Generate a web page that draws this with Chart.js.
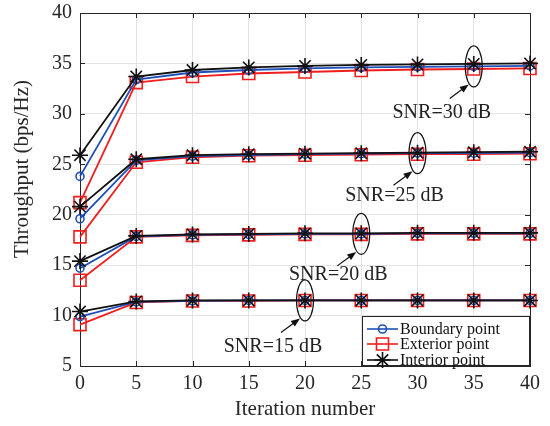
<!DOCTYPE html>
<html lang="en">
<head>
<meta charset="UTF-8">
<title>Throughput vs iteration</title>
<style>
html, body { margin: 0; padding: 0; background: #fff; }
#wrap { width: 550px; height: 426px; }
</style>
</head>
<body>
<div id="wrap"><canvas id="myChart"></canvas></div>

<script src="https://cdn.jsdelivr.net/npm/chart.js"></script>
<script>
// data
const iterations = [0, 5, 10, 15, 20, 25, 30, 35, 40];
const xTicks = [0, 5, 10, 15, 20, 25, 30, 35, 40];
const yTicks = [5, 10, 15, 20, 25, 30, 35, 40];

const boundary30 = [23.8, 33.4, 34.1, 34.35, 34.5, 34.6, 34.65, 34.7, 34.75];
const exterior30 = [21.2, 33.1, 33.7, 34.0, 34.15, 34.3, 34.4, 34.45, 34.5];
const interior30 = [25.9, 33.7, 34.35, 34.6, 34.75, 34.85, 34.9, 34.95, 35.0];

const boundary25 = [19.6, 25.4, 25.8, 25.9, 26.0, 26.05, 26.1, 26.1, 26.15];
const exterior25 = [17.8, 25.2, 25.7, 25.85, 25.9, 25.95, 26.0, 26.0, 26.05];
const interior25 = [20.8, 25.5, 25.9, 26.0, 26.05, 26.1, 26.15, 26.2, 26.25];

const boundary20 = [14.7, 17.85, 18.0, 18.05, 18.1, 18.1, 18.15, 18.15, 18.15];
const exterior20 = [13.5, 17.8, 17.95, 18.0, 18.05, 18.05, 18.1, 18.1, 18.1];
const interior20 = [15.4, 17.9, 18.05, 18.1, 18.15, 18.15, 18.2, 18.2, 18.2];

const boundary15 = [9.9, 11.35, 11.45, 11.5, 11.5, 11.5, 11.5, 11.5, 11.5];
const exterior15 = [9.1, 11.3, 11.45, 11.45, 11.5, 11.5, 11.5, 11.5, 11.5];
const interior15 = [10.4, 11.4, 11.5, 11.5, 11.5, 11.5, 11.5, 11.5, 11.5];

const seriesNames = ['Boundary point', 'Exterior point', 'Interior point'];
const snrLabels = ['SNR=30 dB', 'SNR=25 dB', 'SNR=20 dB', 'SNR=15 dB'];
const snrMarkAt = [35, 30, 25, 20];   // iteration where the ellipse sits
const snrBoundary = [boundary30, boundary25, boundary20, boundary15];
const snrExterior = [exterior30, exterior25, exterior20, exterior15];
const snrInterior = [interior30, interior25, interior20, interior15];

const FONT = "'Liberation Serif', 'Times New Roman', serif";
const BLUE = 'rgb(30,80,185)';
const RED = 'rgb(240,30,30)';
const BLACK = '#111';

const styles = [
    {color: BLUE, pointStyle: 'circle', radius: 4, order: 1},
    {color: RED, pointStyle: 'rect', radius: 8.5, order: 2},
    {color: BLACK, pointStyle: 'star', radius: 8, order: 0}
];

function makeSet(values, k) {
    let s = styles[k];
    return {
        label: seriesNames[k],
        data: iterations.map((x, i) => ({x: x, y: values[i]})),
        borderColor: s.color,
        borderWidth: 1.8,
        pointStyle: s.pointStyle,
        pointRadius: s.radius,
        pointBorderWidth: 1.6,
        pointBorderColor: s.color,
        pointBackgroundColor: 'rgba(0,0,0,0)',
        order: s.order,
        clip: false
    };
}

let datasets = [];
for (let j = 0; j < 4; j++) {
    datasets.push(makeSet(snrBoundary[j], 0));
    datasets.push(makeSet(snrExterior[j], 1));
    datasets.push(makeSet(snrInterior[j], 2));
}

// box + inward ticks, like the original axes
const axesBox = {
    id: 'axesBox',
    beforeDatasetsDraw(chart) {
        const {ctx, chartArea: a, scales: {x, y}} = chart;
        ctx.save();
        ctx.strokeStyle = '#262626';
        ctx.lineWidth = 1;
        ctx.strokeRect(a.left + 0.5, a.top + 0.5, a.right - a.left, a.bottom - a.top);
        ctx.beginPath();
        xTicks.forEach(v => {
            let px = Math.round(x.getPixelForValue(v)) + 0.5;
            ctx.moveTo(px, a.bottom); ctx.lineTo(px, a.bottom - 5);
            ctx.moveTo(px, a.top); ctx.lineTo(px, a.top + 5);
        });
        yTicks.forEach(v => {
            let py = Math.round(y.getPixelForValue(v)) + 0.5;
            ctx.moveTo(a.left, py); ctx.lineTo(a.left + 5, py);
            ctx.moveTo(a.right, py); ctx.lineTo(a.right - 5, py);
        });
        ctx.stroke();
        ctx.restore();
    }
};

// ellipses, arrows and SNR labels
const textOff = [[-32, 46], [-23, 43], [-23, 41], [-32, 46]];
const snrNotes = {
    id: 'snrNotes',
    afterDatasetsDraw(chart) {
        const {ctx, scales: {x, y}} = chart;
        ctx.save();
        ctx.strokeStyle = '#111';
        ctx.fillStyle = '#111';
        ctx.lineWidth = 1.2;
        for (let j = 0; j < 4; j++) {
            let idx = iterations.indexOf(snrMarkAt[j]);
            let cx = x.getPixelForValue(snrMarkAt[j]);
            let cy = y.getPixelForValue(snrBoundary[j][idx]);
            ctx.beginPath();
            ctx.ellipse(cx, cy, 8.5, 20.5, 0, 0, Math.PI * 2);
            ctx.stroke();

            // arrow
            let tx = cx - 24, ty = cy + 32, hx = cx - 5, hy = cy + 18;
            let ang = Math.atan2(hy - ty, hx - tx);
            ctx.beginPath();
            ctx.moveTo(tx, ty);
            ctx.lineTo(hx - 6 * Math.cos(ang), hy - 6 * Math.sin(ang));
            ctx.stroke();
            ctx.beginPath();
            ctx.moveTo(hx, hy);
            ctx.lineTo(hx - 9 * Math.cos(ang) + 3.5 * Math.sin(ang), hy - 9 * Math.sin(ang) - 3.5 * Math.cos(ang));
            ctx.lineTo(hx - 9 * Math.cos(ang) - 3.5 * Math.sin(ang), hy - 9 * Math.sin(ang) + 3.5 * Math.cos(ang));
            ctx.closePath();
            ctx.fill();

            ctx.font = '20px ' + FONT;
            ctx.fillStyle = '#222';
            ctx.textAlign = 'center';
            ctx.textBaseline = 'middle';
            ctx.fillText(snrLabels[j], cx + textOff[j][0], cy + textOff[j][1]);
            ctx.fillStyle = '#111';
        }
        ctx.restore();
    }
};

function drawMarker(ctx, style, r, px, py) {
    ctx.beginPath();
    if (style === 'circle') {
        ctx.arc(px, py, r, 0, Math.PI * 2);
    } else if (style === 'rect') {
        let h = r * Math.SQRT1_2;
        ctx.rect(px - h, py - h, 2 * h, 2 * h);
    } else {
        for (let k = 0; k < 4; k++) {
            let a = k * Math.PI / 4;
            ctx.moveTo(px - r * Math.cos(a), py - r * Math.sin(a));
            ctx.lineTo(px + r * Math.cos(a), py + r * Math.sin(a));
        }
    }
    ctx.stroke();
}

// legend box in the lower right corner of the axes, plus the y label
const boxLegend = {
    id: 'boxLegend',
    afterDraw(chart) {
        const {ctx, chartArea: a} = chart;
        let left = a.right - 168, top = a.bottom - 50;
        ctx.save();
        ctx.fillStyle = '#fff';
        ctx.fillRect(left, top, a.right - left, a.bottom - top);
        ctx.strokeStyle = '#262626';
        ctx.lineWidth = 1;
        ctx.strokeRect(left + 0.5, top + 0.5, a.right - left - 1, a.bottom - top - 1);
        let rows = [13, 28, 44];
        ctx.font = '16px ' + FONT;
        ctx.textBaseline = 'middle';
        ctx.textAlign = 'left';
        for (let k = 0; k < 3; k++) {
            let s = styles[k];
            let ry = top + rows[k];
            ctx.strokeStyle = s.color;
            ctx.lineWidth = 1.6;
            ctx.beginPath();
            ctx.moveTo(left + 5, ry);
            ctx.lineTo(left + 36, ry);
            ctx.stroke();
            drawMarker(ctx, s.pointStyle, s.radius, left + 20.5, ry);
            ctx.fillStyle = '#111';
            ctx.fillText(seriesNames[k], left + 38, ry + 1);
        }

        // y axis label (sits a bit above the axes centre in the original)
        ctx.translate(22, a.top + 156);
        ctx.rotate(-Math.PI / 2);
        ctx.font = '21px ' + FONT;
        ctx.fillStyle = '#262626';
        ctx.textAlign = 'center';
        ctx.fillText('Throughput (bps/Hz)', 0, 0);
        ctx.restore();
    }
};

const ctx = document.getElementById('myChart');

let chart = new Chart(ctx, {
    type: 'line',
    data: {datasets: datasets},
    options: {
        responsive: true,
        maintainAspectRatio: false,
        animation: false,
        layout: {padding: {top: 13, right: 20, left: 7, bottom: 0}},
        plugins: {
            legend: {display: false},
            tooltip: {enabled: false}
        },
        scales: {
            x: {
                type: 'linear',
                min: 0,
                max: 40,
                afterBuildTicks: s => { s.ticks = xTicks.map(v => ({value: v})); },
                afterFit: s => { s.height = 60; s.paddingLeft = 0; s.paddingRight = 0; },
                grid: {color: '#e3e3e3', drawTicks: false},
                border: {display: false},
                ticks: {color: '#262626', padding: 6, font: {family: FONT, size: 20}},
                title: {display: true, text: 'Iteration number', color: '#262626', font: {family: FONT, size: 21}}
            },
            y: {
                min: 5,
                max: 40,
                afterBuildTicks: s => { s.ticks = yTicks.map(v => ({value: v})); },
                afterFit: s => { s.width = 73; s.paddingTop = 0; s.paddingBottom = 0; },
                grid: {color: '#e3e3e3', drawTicks: false},
                border: {display: false},
                ticks: {color: '#262626', padding: 8, font: {family: FONT, size: 20}}
            }
        }
    },
    plugins: [axesBox, snrNotes, boxLegend]
});
</script>
</body>
</html>
